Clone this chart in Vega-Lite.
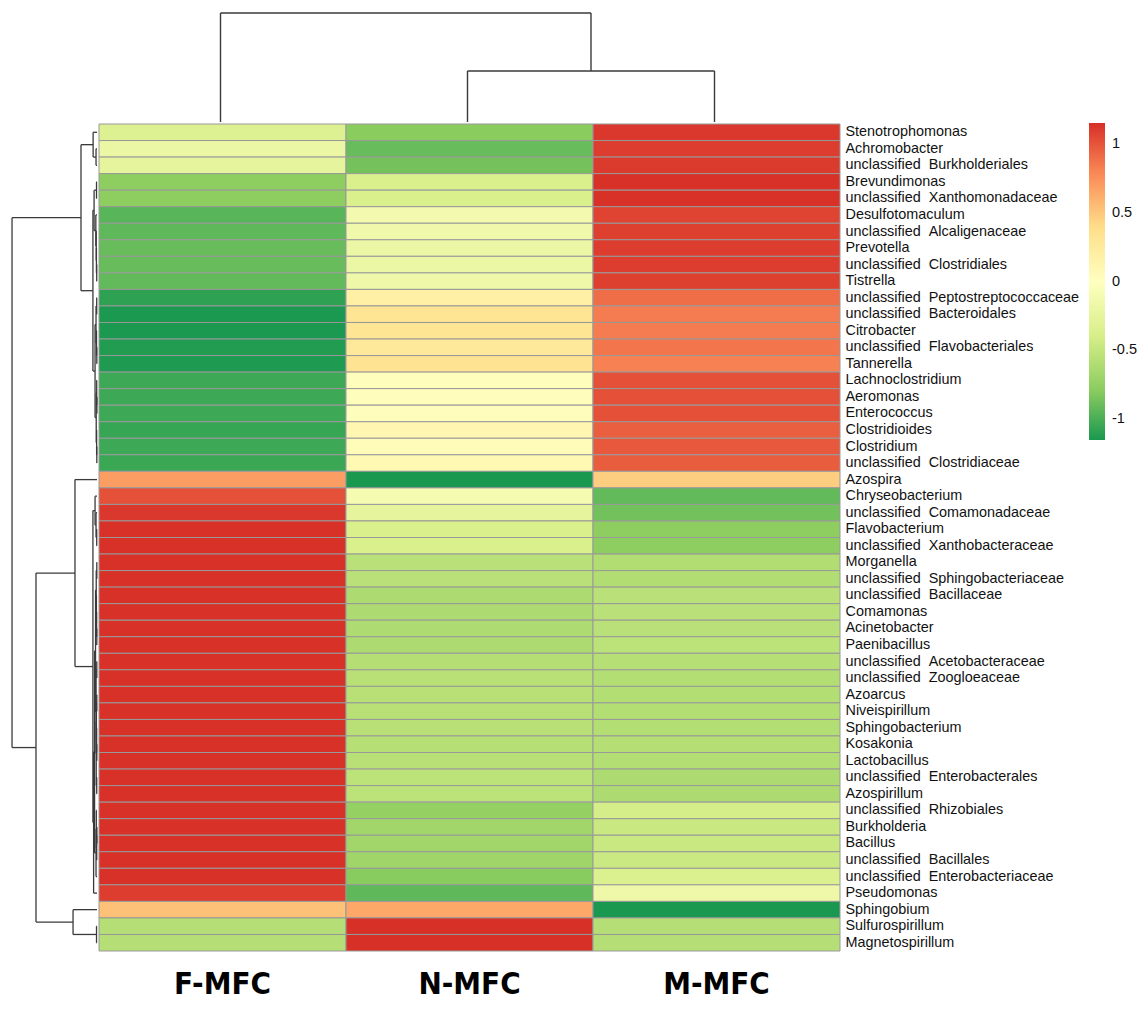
{
  "$schema": "https://vega.github.io/schema/vega-lite/v6.json",
  "padding": 0,
  "background": "white",
  "spacing": 0,
  "config": {"view": {"stroke": null}, "concat": {"spacing": 0}},
  "datasets": {
    "cells": [
      {"taxon": "\u00a0Stenotrophomonas", "group": "F-MFC", "z": -0.33}, {"taxon": "\u00a0Stenotrophomonas", "group": "N-MFC", "z": -0.79}, {"taxon": "\u00a0Stenotrophomonas", "group": "M-MFC", "z": 1.12},
      {"taxon": "\u00a0Achromobacter", "group": "F-MFC", "z": -0.2}, {"taxon": "\u00a0Achromobacter", "group": "N-MFC", "z": -0.9}, {"taxon": "\u00a0Achromobacter", "group": "M-MFC", "z": 1.1},
      {"taxon": "unclassified\u00a0\u00a0Burkholderiales", "group": "F-MFC", "z": -0.25}, {"taxon": "unclassified\u00a0\u00a0Burkholderiales", "group": "N-MFC", "z": -0.86}, {"taxon": "unclassified\u00a0\u00a0Burkholderiales", "group": "M-MFC", "z": 1.11},
      {"taxon": "\u00a0Brevundimonas", "group": "F-MFC", "z": -0.78}, {"taxon": "\u00a0Brevundimonas", "group": "N-MFC", "z": -0.37}, {"taxon": "\u00a0Brevundimonas", "group": "M-MFC", "z": 1.15},
      {"taxon": "unclassified\u00a0\u00a0Xanthomonadaceae", "group": "F-MFC", "z": -0.78}, {"taxon": "unclassified\u00a0\u00a0Xanthomonadaceae", "group": "N-MFC", "z": -0.37}, {"taxon": "unclassified\u00a0\u00a0Xanthomonadaceae", "group": "M-MFC", "z": 1.15},
      {"taxon": "\u00a0Desulfotomaculum", "group": "F-MFC", "z": -0.95}, {"taxon": "\u00a0Desulfotomaculum", "group": "N-MFC", "z": -0.12}, {"taxon": "\u00a0Desulfotomaculum", "group": "M-MFC", "z": 1.07},
      {"taxon": "unclassified\u00a0\u00a0Alcaligenaceae", "group": "F-MFC", "z": -0.93}, {"taxon": "unclassified\u00a0\u00a0Alcaligenaceae", "group": "N-MFC", "z": -0.15}, {"taxon": "unclassified\u00a0\u00a0Alcaligenaceae", "group": "M-MFC", "z": 1.09},
      {"taxon": "\u00a0Prevotella", "group": "F-MFC", "z": -0.9}, {"taxon": "\u00a0Prevotella", "group": "N-MFC", "z": -0.2}, {"taxon": "\u00a0Prevotella", "group": "M-MFC", "z": 1.1},
      {"taxon": "unclassified\u00a0\u00a0Clostridiales", "group": "F-MFC", "z": -0.9}, {"taxon": "unclassified\u00a0\u00a0Clostridiales", "group": "N-MFC", "z": -0.2}, {"taxon": "unclassified\u00a0\u00a0Clostridiales", "group": "M-MFC", "z": 1.1},
      {"taxon": "\u00a0Tistrella", "group": "F-MFC", "z": -0.92}, {"taxon": "\u00a0Tistrella", "group": "N-MFC", "z": -0.17}, {"taxon": "\u00a0Tistrella", "group": "M-MFC", "z": 1.09},
      {"taxon": "unclassified\u00a0\u00a0Peptostreptococcaceae", "group": "F-MFC", "z": -1.09}, {"taxon": "unclassified\u00a0\u00a0Peptostreptococcaceae", "group": "N-MFC", "z": 0.19}, {"taxon": "unclassified\u00a0\u00a0Peptostreptococcaceae", "group": "M-MFC", "z": 0.9},
      {"taxon": "unclassified\u00a0\u00a0Bacteroidales", "group": "F-MFC", "z": -1.15}, {"taxon": "unclassified\u00a0\u00a0Bacteroidales", "group": "N-MFC", "z": 0.32}, {"taxon": "unclassified\u00a0\u00a0Bacteroidales", "group": "M-MFC", "z": 0.84},
      {"taxon": "\u00a0Citrobacter", "group": "F-MFC", "z": -1.15}, {"taxon": "\u00a0Citrobacter", "group": "N-MFC", "z": 0.32}, {"taxon": "\u00a0Citrobacter", "group": "M-MFC", "z": 0.84},
      {"taxon": "unclassified\u00a0\u00a0Flavobacteriales", "group": "F-MFC", "z": -1.13}, {"taxon": "unclassified\u00a0\u00a0Flavobacteriales", "group": "N-MFC", "z": 0.28}, {"taxon": "unclassified\u00a0\u00a0Flavobacteriales", "group": "M-MFC", "z": 0.87},
      {"taxon": "\u00a0Tannerella", "group": "F-MFC", "z": -1.14}, {"taxon": "\u00a0Tannerella", "group": "N-MFC", "z": 0.33}, {"taxon": "\u00a0Tannerella", "group": "M-MFC", "z": 0.82},
      {"taxon": "\u00a0Lachnoclostridium", "group": "F-MFC", "z": -1.04}, {"taxon": "\u00a0Lachnoclostridium", "group": "N-MFC", "z": 0.02}, {"taxon": "\u00a0Lachnoclostridium", "group": "M-MFC", "z": 1.02},
      {"taxon": "\u00a0Aeromonas", "group": "F-MFC", "z": -1.04}, {"taxon": "\u00a0Aeromonas", "group": "N-MFC", "z": 0.02}, {"taxon": "\u00a0Aeromonas", "group": "M-MFC", "z": 1.02},
      {"taxon": "\u00a0Enterococcus", "group": "F-MFC", "z": -1.04}, {"taxon": "\u00a0Enterococcus", "group": "N-MFC", "z": 0.02}, {"taxon": "\u00a0Enterococcus", "group": "M-MFC", "z": 1.02},
      {"taxon": "\u00a0Clostridioides", "group": "F-MFC", "z": -1.06}, {"taxon": "\u00a0Clostridioides", "group": "N-MFC", "z": 0.1}, {"taxon": "\u00a0Clostridioides", "group": "M-MFC", "z": 0.96},
      {"taxon": "\u00a0Clostridium", "group": "F-MFC", "z": -1.04}, {"taxon": "\u00a0Clostridium", "group": "N-MFC", "z": 0.05}, {"taxon": "\u00a0Clostridium", "group": "M-MFC", "z": 0.99},
      {"taxon": "unclassified\u00a0\u00a0Clostridiaceae", "group": "F-MFC", "z": -1.05}, {"taxon": "unclassified\u00a0\u00a0Clostridiaceae", "group": "N-MFC", "z": 0.08}, {"taxon": "unclassified\u00a0\u00a0Clostridiaceae", "group": "M-MFC", "z": 0.97},
      {"taxon": "\u00a0Azospira", "group": "F-MFC", "z": 0.69}, {"taxon": "\u00a0Azospira", "group": "N-MFC", "z": -1.155}, {"taxon": "\u00a0Azospira", "group": "M-MFC", "z": 0.47},
      {"taxon": "\u00a0Chryseobacterium", "group": "F-MFC", "z": 1.02}, {"taxon": "\u00a0Chryseobacterium", "group": "N-MFC", "z": -0.1}, {"taxon": "\u00a0Chryseobacterium", "group": "M-MFC", "z": -0.92},
      {"taxon": "unclassified\u00a0\u00a0Comamonadaceae", "group": "F-MFC", "z": 1.12}, {"taxon": "unclassified\u00a0\u00a0Comamonadaceae", "group": "N-MFC", "z": -0.25}, {"taxon": "unclassified\u00a0\u00a0Comamonadaceae", "group": "M-MFC", "z": -0.87},
      {"taxon": "\u00a0Flavobacterium", "group": "F-MFC", "z": 1.15}, {"taxon": "\u00a0Flavobacterium", "group": "N-MFC", "z": -0.37}, {"taxon": "\u00a0Flavobacterium", "group": "M-MFC", "z": -0.78},
      {"taxon": "unclassified\u00a0\u00a0Xanthobacteraceae", "group": "F-MFC", "z": 1.15}, {"taxon": "unclassified\u00a0\u00a0Xanthobacteraceae", "group": "N-MFC", "z": -0.37}, {"taxon": "unclassified\u00a0\u00a0Xanthobacteraceae", "group": "M-MFC", "z": -0.78},
      {"taxon": "\u00a0Morganella", "group": "F-MFC", "z": 1.15}, {"taxon": "\u00a0Morganella", "group": "N-MFC", "z": -0.55}, {"taxon": "\u00a0Morganella", "group": "M-MFC", "z": -0.6},
      {"taxon": "unclassified\u00a0\u00a0Sphingobacteriaceae", "group": "F-MFC", "z": 1.15}, {"taxon": "unclassified\u00a0\u00a0Sphingobacteriaceae", "group": "N-MFC", "z": -0.55}, {"taxon": "unclassified\u00a0\u00a0Sphingobacteriaceae", "group": "M-MFC", "z": -0.6},
      {"taxon": "unclassified\u00a0\u00a0Bacillaceae", "group": "F-MFC", "z": 1.15}, {"taxon": "unclassified\u00a0\u00a0Bacillaceae", "group": "N-MFC", "z": -0.62}, {"taxon": "unclassified\u00a0\u00a0Bacillaceae", "group": "M-MFC", "z": -0.55},
      {"taxon": "\u00a0Comamonas", "group": "F-MFC", "z": 1.15}, {"taxon": "\u00a0Comamonas", "group": "N-MFC", "z": -0.62}, {"taxon": "\u00a0Comamonas", "group": "M-MFC", "z": -0.55},
      {"taxon": "\u00a0Acinetobacter", "group": "F-MFC", "z": 1.15}, {"taxon": "\u00a0Acinetobacter", "group": "N-MFC", "z": -0.61}, {"taxon": "\u00a0Acinetobacter", "group": "M-MFC", "z": -0.55},
      {"taxon": "\u00a0Paenibacillus", "group": "F-MFC", "z": 1.15}, {"taxon": "\u00a0Paenibacillus", "group": "N-MFC", "z": -0.62}, {"taxon": "\u00a0Paenibacillus", "group": "M-MFC", "z": -0.54},
      {"taxon": "unclassified\u00a0\u00a0Acetobacteraceae", "group": "F-MFC", "z": 1.15}, {"taxon": "unclassified\u00a0\u00a0Acetobacteraceae", "group": "N-MFC", "z": -0.58}, {"taxon": "unclassified\u00a0\u00a0Acetobacteraceae", "group": "M-MFC", "z": -0.57},
      {"taxon": "unclassified\u00a0\u00a0Zoogloeaceae", "group": "F-MFC", "z": 1.15}, {"taxon": "unclassified\u00a0\u00a0Zoogloeaceae", "group": "N-MFC", "z": -0.56}, {"taxon": "unclassified\u00a0\u00a0Zoogloeaceae", "group": "M-MFC", "z": -0.59},
      {"taxon": "\u00a0Azoarcus", "group": "F-MFC", "z": 1.15}, {"taxon": "\u00a0Azoarcus", "group": "N-MFC", "z": -0.56}, {"taxon": "\u00a0Azoarcus", "group": "M-MFC", "z": -0.59},
      {"taxon": "\u00a0Niveispirillum", "group": "F-MFC", "z": 1.15}, {"taxon": "\u00a0Niveispirillum", "group": "N-MFC", "z": -0.56}, {"taxon": "\u00a0Niveispirillum", "group": "M-MFC", "z": -0.59},
      {"taxon": "\u00a0Sphingobacterium", "group": "F-MFC", "z": 1.15}, {"taxon": "\u00a0Sphingobacterium", "group": "N-MFC", "z": -0.56}, {"taxon": "\u00a0Sphingobacterium", "group": "M-MFC", "z": -0.59},
      {"taxon": "\u00a0Kosakonia", "group": "F-MFC", "z": 1.15}, {"taxon": "\u00a0Kosakonia", "group": "N-MFC", "z": -0.57}, {"taxon": "\u00a0Kosakonia", "group": "M-MFC", "z": -0.58},
      {"taxon": "\u00a0Lactobacillus", "group": "F-MFC", "z": 1.15}, {"taxon": "\u00a0Lactobacillus", "group": "N-MFC", "z": -0.56}, {"taxon": "\u00a0Lactobacillus", "group": "M-MFC", "z": -0.59},
      {"taxon": "unclassified\u00a0\u00a0Enterobacterales", "group": "F-MFC", "z": 1.15}, {"taxon": "unclassified\u00a0\u00a0Enterobacterales", "group": "N-MFC", "z": -0.54}, {"taxon": "unclassified\u00a0\u00a0Enterobacterales", "group": "M-MFC", "z": -0.62},
      {"taxon": "\u00a0Azospirillum", "group": "F-MFC", "z": 1.15}, {"taxon": "\u00a0Azospirillum", "group": "N-MFC", "z": -0.54}, {"taxon": "\u00a0Azospirillum", "group": "M-MFC", "z": -0.62},
      {"taxon": "unclassified\u00a0\u00a0Rhizobiales", "group": "F-MFC", "z": 1.15}, {"taxon": "unclassified\u00a0\u00a0Rhizobiales", "group": "N-MFC", "z": -0.75}, {"taxon": "unclassified\u00a0\u00a0Rhizobiales", "group": "M-MFC", "z": -0.4},
      {"taxon": "\u00a0Burkholderia", "group": "F-MFC", "z": 1.15}, {"taxon": "\u00a0Burkholderia", "group": "N-MFC", "z": -0.68}, {"taxon": "\u00a0Burkholderia", "group": "M-MFC", "z": -0.47},
      {"taxon": "\u00a0Bacillus", "group": "F-MFC", "z": 1.15}, {"taxon": "\u00a0Bacillus", "group": "N-MFC", "z": -0.68}, {"taxon": "\u00a0Bacillus", "group": "M-MFC", "z": -0.47},
      {"taxon": "unclassified\u00a0\u00a0Bacillales", "group": "F-MFC", "z": 1.15}, {"taxon": "unclassified\u00a0\u00a0Bacillales", "group": "N-MFC", "z": -0.69}, {"taxon": "unclassified\u00a0\u00a0Bacillales", "group": "M-MFC", "z": -0.46},
      {"taxon": "unclassified\u00a0\u00a0Enterobacteriaceae", "group": "F-MFC", "z": 1.15}, {"taxon": "unclassified\u00a0\u00a0Enterobacteriaceae", "group": "N-MFC", "z": -0.8}, {"taxon": "unclassified\u00a0\u00a0Enterobacteriaceae", "group": "M-MFC", "z": -0.36},
      {"taxon": "\u00a0Pseudomonas", "group": "F-MFC", "z": 1.1}, {"taxon": "\u00a0Pseudomonas", "group": "N-MFC", "z": -0.93}, {"taxon": "\u00a0Pseudomonas", "group": "M-MFC", "z": -0.17},
      {"taxon": "\u00a0Sphingobium", "group": "F-MFC", "z": 0.53}, {"taxon": "\u00a0Sphingobium", "group": "N-MFC", "z": 0.65}, {"taxon": "\u00a0Sphingobium", "group": "M-MFC", "z": -1.155},
      {"taxon": "\u00a0Sulfurospirillum", "group": "F-MFC", "z": -0.577}, {"taxon": "\u00a0Sulfurospirillum", "group": "N-MFC", "z": 1.155}, {"taxon": "\u00a0Sulfurospirillum", "group": "M-MFC", "z": -0.577},
      {"taxon": "\u00a0Magnetospirillum", "group": "F-MFC", "z": -0.577}, {"taxon": "\u00a0Magnetospirillum", "group": "N-MFC", "z": 1.155}, {"taxon": "\u00a0Magnetospirillum", "group": "M-MFC", "z": -0.577}
    ],
    "coltree": [
      {"x": 0.5, "x2": 0.5, "y": 0, "y2": 8.93},
      {"x": 2.0, "x2": 2.0, "y": 4.18, "y2": 8.93},
      {"x": 0.5, "x2": 2.0, "y": 8.93, "y2": 8.93},
      {"x": 1.5, "x2": 1.5, "y": 0, "y2": 4.18},
      {"x": 2.5, "x2": 2.5, "y": 0, "y2": 4.18},
      {"x": 1.5, "x2": 2.5, "y": 4.18, "y2": 4.18}
    ],
    "rowtree": [
      {"x": 0.1, "x2": 0.1, "y": 1.5, "y2": 2.5}, {"x": 0, "x2": 0.1, "y": 1.5, "y2": 1.5}, {"x": 0, "x2": 0.1, "y": 2.5, "y2": 2.5},
      {"x": 0.4, "x2": 0.4, "y": 0.5, "y2": 2.0}, {"x": 0, "x2": 0.4, "y": 0.5, "y2": 0.5}, {"x": 0.1, "x2": 0.4, "y": 2.0, "y2": 2.0},
      {"x": 0.05, "x2": 0.05, "y": 3.5, "y2": 4.5}, {"x": 0, "x2": 0.05, "y": 3.5, "y2": 3.5}, {"x": 0, "x2": 0.05, "y": 4.5, "y2": 4.5},
      {"x": 0.03, "x2": 0.03, "y": 8.5, "y2": 9.5}, {"x": 0, "x2": 0.03, "y": 8.5, "y2": 8.5}, {"x": 0, "x2": 0.03, "y": 9.5, "y2": 9.5},
      {"x": 0.06, "x2": 0.06, "y": 7.5, "y2": 9.0}, {"x": 0, "x2": 0.06, "y": 7.5, "y2": 7.5}, {"x": 0.03, "x2": 0.06, "y": 9.0, "y2": 9.0},
      {"x": 0.08, "x2": 0.08, "y": 6.5, "y2": 8.25}, {"x": 0, "x2": 0.08, "y": 6.5, "y2": 6.5}, {"x": 0.06, "x2": 0.08, "y": 8.25, "y2": 8.25},
      {"x": 0.12, "x2": 0.12, "y": 5.5, "y2": 7.375}, {"x": 0, "x2": 0.12, "y": 5.5, "y2": 5.5}, {"x": 0.08, "x2": 0.12, "y": 7.375, "y2": 7.375},
      {"x": 0.3, "x2": 0.3, "y": 4.0, "y2": 6.4375}, {"x": 0.05, "x2": 0.3, "y": 4.0, "y2": 4.0}, {"x": 0.12, "x2": 0.3, "y": 6.4375, "y2": 6.4375},
      {"x": 0.03, "x2": 0.03, "y": 10.5, "y2": 11.5}, {"x": 0, "x2": 0.03, "y": 10.5, "y2": 10.5}, {"x": 0, "x2": 0.03, "y": 11.5, "y2": 11.5},
      {"x": 0.02, "x2": 0.02, "y": 13.5, "y2": 14.5}, {"x": 0, "x2": 0.02, "y": 13.5, "y2": 13.5}, {"x": 0, "x2": 0.02, "y": 14.5, "y2": 14.5},
      {"x": 0.05, "x2": 0.05, "y": 12.5, "y2": 14.0}, {"x": 0, "x2": 0.05, "y": 12.5, "y2": 12.5}, {"x": 0.02, "x2": 0.05, "y": 14.0, "y2": 14.0},
      {"x": 0.1, "x2": 0.1, "y": 11.0, "y2": 13.25}, {"x": 0.03, "x2": 0.1, "y": 11.0, "y2": 11.0}, {"x": 0.05, "x2": 0.1, "y": 13.25, "y2": 13.25},
      {"x": 0.01, "x2": 0.01, "y": 16.5, "y2": 17.5}, {"x": 0, "x2": 0.01, "y": 16.5, "y2": 16.5}, {"x": 0, "x2": 0.01, "y": 17.5, "y2": 17.5},
      {"x": 0.03, "x2": 0.03, "y": 15.5, "y2": 17.0}, {"x": 0, "x2": 0.03, "y": 15.5, "y2": 15.5}, {"x": 0.01, "x2": 0.03, "y": 17.0, "y2": 17.0},
      {"x": 0.02, "x2": 0.02, "y": 19.5, "y2": 20.5}, {"x": 0, "x2": 0.02, "y": 19.5, "y2": 19.5}, {"x": 0, "x2": 0.02, "y": 20.5, "y2": 20.5},
      {"x": 0.04, "x2": 0.04, "y": 18.5, "y2": 20.0}, {"x": 0, "x2": 0.04, "y": 18.5, "y2": 18.5}, {"x": 0.02, "x2": 0.04, "y": 20.0, "y2": 20.0},
      {"x": 0.08, "x2": 0.08, "y": 16.25, "y2": 19.25}, {"x": 0.03, "x2": 0.08, "y": 16.25, "y2": 16.25}, {"x": 0.04, "x2": 0.08, "y": 19.25, "y2": 19.25},
      {"x": 0.2, "x2": 0.2, "y": 12.125, "y2": 17.75}, {"x": 0.1, "x2": 0.2, "y": 12.125, "y2": 12.125}, {"x": 0.08, "x2": 0.2, "y": 17.75, "y2": 17.75},
      {"x": 0.42, "x2": 0.42, "y": 5.219, "y2": 14.938}, {"x": 0.3, "x2": 0.42, "y": 5.219, "y2": 5.219}, {"x": 0.2, "x2": 0.42, "y": 14.938, "y2": 14.938},
      {"x": 1.65, "x2": 1.65, "y": 1.25, "y2": 10.078}, {"x": 0.4, "x2": 1.65, "y": 1.25, "y2": 1.25}, {"x": 0.42, "x2": 1.65, "y": 10.078, "y2": 10.078},
      {"x": 0.03, "x2": 0.03, "y": 24.5, "y2": 25.5}, {"x": 0, "x2": 0.03, "y": 24.5, "y2": 24.5}, {"x": 0, "x2": 0.03, "y": 25.5, "y2": 25.5},
      {"x": 0.1, "x2": 0.1, "y": 23.5, "y2": 25.0}, {"x": 0, "x2": 0.1, "y": 23.5, "y2": 23.5}, {"x": 0.03, "x2": 0.1, "y": 25.0, "y2": 25.0},
      {"x": 0.2, "x2": 0.2, "y": 22.5, "y2": 24.25}, {"x": 0, "x2": 0.2, "y": 22.5, "y2": 22.5}, {"x": 0.1, "x2": 0.2, "y": 24.25, "y2": 24.25},
      {"x": 0.02, "x2": 0.02, "y": 26.5, "y2": 27.5}, {"x": 0, "x2": 0.02, "y": 26.5, "y2": 26.5}, {"x": 0, "x2": 0.02, "y": 27.5, "y2": 27.5},
      {"x": 0.02, "x2": 0.02, "y": 30.5, "y2": 31.5}, {"x": 0, "x2": 0.02, "y": 30.5, "y2": 30.5}, {"x": 0, "x2": 0.02, "y": 31.5, "y2": 31.5},
      {"x": 0.04, "x2": 0.04, "y": 29.5, "y2": 31.0}, {"x": 0, "x2": 0.04, "y": 29.5, "y2": 29.5}, {"x": 0.02, "x2": 0.04, "y": 31.0, "y2": 31.0},
      {"x": 0.06, "x2": 0.06, "y": 28.5, "y2": 30.25}, {"x": 0, "x2": 0.06, "y": 28.5, "y2": 28.5}, {"x": 0.04, "x2": 0.06, "y": 30.25, "y2": 30.25},
      {"x": 0.08, "x2": 0.08, "y": 27.0, "y2": 29.375}, {"x": 0.02, "x2": 0.08, "y": 27.0, "y2": 27.0}, {"x": 0.06, "x2": 0.08, "y": 29.375, "y2": 29.375},
      {"x": 0.02, "x2": 0.02, "y": 32.5, "y2": 33.5}, {"x": 0, "x2": 0.02, "y": 32.5, "y2": 32.5}, {"x": 0, "x2": 0.02, "y": 33.5, "y2": 33.5},
      {"x": 0.02, "x2": 0.02, "y": 34.5, "y2": 35.5}, {"x": 0, "x2": 0.02, "y": 34.5, "y2": 34.5}, {"x": 0, "x2": 0.02, "y": 35.5, "y2": 35.5},
      {"x": 0.02, "x2": 0.02, "y": 37.5, "y2": 38.5}, {"x": 0, "x2": 0.02, "y": 37.5, "y2": 37.5}, {"x": 0, "x2": 0.02, "y": 38.5, "y2": 38.5},
      {"x": 0.04, "x2": 0.04, "y": 36.5, "y2": 38.0}, {"x": 0, "x2": 0.04, "y": 36.5, "y2": 36.5}, {"x": 0.02, "x2": 0.04, "y": 38.0, "y2": 38.0},
      {"x": 0.06, "x2": 0.06, "y": 35.0, "y2": 37.25}, {"x": 0.02, "x2": 0.06, "y": 35.0, "y2": 35.0}, {"x": 0.04, "x2": 0.06, "y": 37.25, "y2": 37.25},
      {"x": 0.03, "x2": 0.03, "y": 39.5, "y2": 40.5}, {"x": 0, "x2": 0.03, "y": 39.5, "y2": 39.5}, {"x": 0, "x2": 0.03, "y": 40.5, "y2": 40.5},
      {"x": 0.08, "x2": 0.08, "y": 36.125, "y2": 40.0}, {"x": 0.06, "x2": 0.08, "y": 36.125, "y2": 36.125}, {"x": 0.03, "x2": 0.08, "y": 40.0, "y2": 40.0},
      {"x": 0.1, "x2": 0.1, "y": 33.0, "y2": 38.063}, {"x": 0.02, "x2": 0.1, "y": 33.0, "y2": 33.0}, {"x": 0.08, "x2": 0.1, "y": 38.063, "y2": 38.063},
      {"x": 0.15, "x2": 0.15, "y": 28.188, "y2": 35.531}, {"x": 0.08, "x2": 0.15, "y": 28.188, "y2": 28.188}, {"x": 0.1, "x2": 0.15, "y": 35.531, "y2": 35.531},
      {"x": 0.01, "x2": 0.01, "y": 42.5, "y2": 43.5}, {"x": 0, "x2": 0.01, "y": 42.5, "y2": 42.5}, {"x": 0, "x2": 0.01, "y": 43.5, "y2": 43.5},
      {"x": 0.03, "x2": 0.03, "y": 43.0, "y2": 44.5}, {"x": 0.01, "x2": 0.03, "y": 43.0, "y2": 43.0}, {"x": 0, "x2": 0.03, "y": 44.5, "y2": 44.5},
      {"x": 0.07, "x2": 0.07, "y": 41.5, "y2": 43.75}, {"x": 0, "x2": 0.07, "y": 41.5, "y2": 41.5}, {"x": 0.03, "x2": 0.07, "y": 43.75, "y2": 43.75},
      {"x": 0.1, "x2": 0.1, "y": 42.625, "y2": 45.5}, {"x": 0.07, "x2": 0.1, "y": 42.625, "y2": 42.625}, {"x": 0, "x2": 0.1, "y": 45.5, "y2": 45.5},
      {"x": 0.25, "x2": 0.25, "y": 31.859, "y2": 44.063}, {"x": 0.15, "x2": 0.25, "y": 31.859, "y2": 31.859}, {"x": 0.1, "x2": 0.25, "y": 44.063, "y2": 44.063},
      {"x": 0.35, "x2": 0.35, "y": 37.961, "y2": 46.5}, {"x": 0.25, "x2": 0.35, "y": 37.961, "y2": 37.961}, {"x": 0, "x2": 0.35, "y": 46.5, "y2": 46.5},
      {"x": 0.42, "x2": 0.42, "y": 23.375, "y2": 42.23}, {"x": 0.2, "x2": 0.42, "y": 23.375, "y2": 23.375}, {"x": 0.35, "x2": 0.42, "y": 42.23, "y2": 42.23},
      {"x": 2.27, "x2": 2.27, "y": 21.5, "y2": 32.803}, {"x": 0, "x2": 2.27, "y": 21.5, "y2": 21.5}, {"x": 0.42, "x2": 2.27, "y": 32.803, "y2": 32.803},
      {"x": 0.05, "x2": 0.05, "y": 48.5, "y2": 49.5}, {"x": 0, "x2": 0.05, "y": 48.5, "y2": 48.5}, {"x": 0, "x2": 0.05, "y": 49.5, "y2": 49.5},
      {"x": 2.47, "x2": 2.47, "y": 47.5, "y2": 49.0}, {"x": 0, "x2": 2.47, "y": 47.5, "y2": 47.5}, {"x": 0.05, "x2": 2.47, "y": 49.0, "y2": 49.0},
      {"x": 6.29, "x2": 6.29, "y": 27.151, "y2": 48.25}, {"x": 2.27, "x2": 6.29, "y": 27.151, "y2": 27.151}, {"x": 2.47, "x2": 6.29, "y": 48.25, "y2": 48.25},
      {"x": 8.76, "x2": 8.76, "y": 5.664, "y2": 37.7}, {"x": 1.65, "x2": 8.76, "y": 5.664, "y2": 5.664}, {"x": 6.29, "x2": 8.76, "y": 37.7, "y2": 37.7}
    ]
  },
  "vconcat": [
    {
      "width": 838,
      "height": 122,
      "data": {"name": "coltree"},
      "mark": {"type": "rule", "color": "#3a3a3a", "strokeWidth": 1.4},
      "encoding": {
        "x": {"field": "x", "type": "quantitative", "axis": null, "scale": {"domain": [-0.3927, 3], "nice": false, "zero": false}},
        "x2": {"field": "x2"},
        "y": {"field": "y", "type": "quantitative", "axis": null, "scale": {"domain": [0, 10], "nice": false}},
        "y2": {"field": "y2"}
      }
    },
    {
      "hconcat": [
        {
          "width": 97,
          "height": 827,
          "data": {"name": "rowtree"},
          "mark": {"type": "rule", "color": "#3a3a3a", "strokeWidth": 1.3},
          "encoding": {
            "x": {"field": "x", "type": "quantitative", "axis": null, "scale": {"domain": [0, 10], "nice": false, "reverse": true}},
            "x2": {"field": "x2"},
            "y": {"field": "y", "type": "quantitative", "axis": null, "scale": {"domain": [0, 50], "nice": false, "reverse": true}},
            "y2": {"field": "y2"}
          }
        },
        {
          "width": 741,
          "height": 827,
          "data": {"name": "cells"},
          "mark": {"type": "rect", "stroke": "#999999", "strokeWidth": 1},
          "encoding": {
            "x": {
              "field": "group", "type": "nominal", "sort": null,
              "scale": {"paddingInner": 0, "paddingOuter": 0},
              "axis": {"orient": "bottom", "title": null, "ticks": false, "domain": false, "labelAngle": 0,
                       "labelFont": "'Liberation Sans Narrow', 'DejaVu Sans Condensed', sans-serif", "labelFontSize": 31, "labelFontWeight": "bold",
                       "labelColor": "#000000", "labelPadding": 18}
            },
            "y": {
              "field": "taxon", "type": "nominal", "sort": null,
              "scale": {"paddingInner": 0, "paddingOuter": 0},
              "axis": {"orient": "right", "title": null, "ticks": false, "domain": false,
                       "labelFont": "Liberation Sans", "labelFontSize": 14.4, "labelColor": "#111111", "labelPadding": 5, "labelLimit": 400}
            },
            "color": {
              "field": "z", "type": "quantitative",
              "scale": {
                "domain": [-1.1547, -0.7698, -0.3849, 0, 0.3849, 0.7698, 1.1547],
                "range": ["#1A9850", "#91CF60", "#D9EF8B", "#FFFFBF", "#FEE08B", "#FC8D59", "#D73027"],
                "interpolate": "rgb"
              },
              "legend": {
                "title": null, "orient": "none", "legendX": 1089, "legendY": 123, "direction": "vertical",
                "gradientLength": 317, "gradientThickness": 16, "gradientStrokeWidth": 0,
                "values": [-1, -0.5, 0, 0.5, 1],
                "labelExpr": "datum.value < 0 ? '-' + abs(datum.value) : '' + datum.value",
                "labelFont": "Liberation Sans", "labelFontSize": 14.5, "labelColor": "#111111", "labelOffset": 7, "labelOverlap": false
              }
            }
          }
        }
      ]
    }
  ]
}
